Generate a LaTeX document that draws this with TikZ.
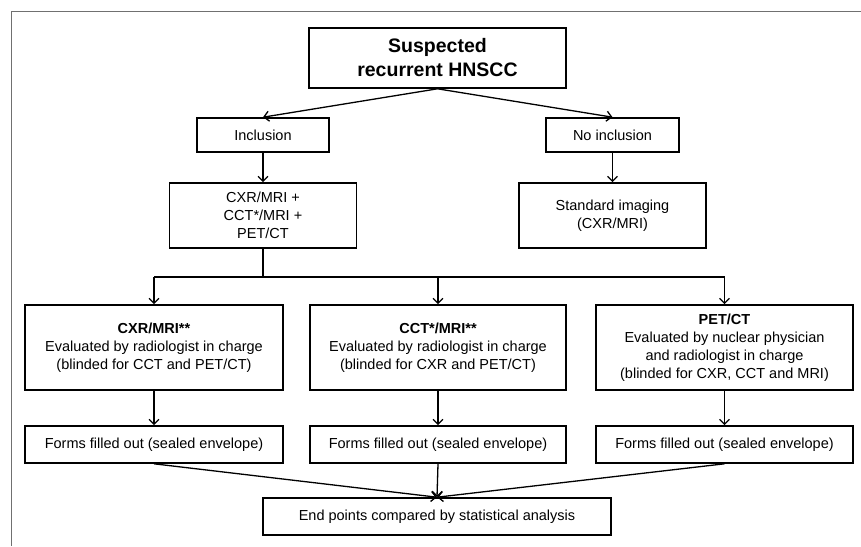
\documentclass[tikz,border=0pt]{standalone}
\usepackage{fontspec}
\setmainfont{Liberation Sans}
\usetikzlibrary{arrows.meta}

\definecolor{framegray}{HTML}{707070}
\tikzset{
	box/.style={draw, line width=1.6pt, inner sep=2pt, align=center,
		font=\fontsize{14.5}{18}\selectfont},
	flow/.style={-{Straight Barb[length=5pt,width=10pt]}, line width=1.3pt},
	link/.style={line width=1.3pt},
}

\begin{document}
\begin{tikzpicture}[x=1pt,y=-1pt]
	\useasboundingbox (0,0) rectangle (861,546);
	% frame
	\draw[line width=1.4pt, framegray] (861,11.7) -- (11.7,11.7) -- (11.7,546);
	% boxes
	\node[box, minimum width=257pt, minimum height=60pt,
		font=\bfseries\fontsize{19.5}{24}\selectfont] (top) at (437.5,58) {Suspected\\recurrent HNSCC};
	\node[box, minimum width=132pt, minimum height=34pt] (incl) at (263,135) {Inclusion};
	\node[box, minimum width=133pt, minimum height=34pt] (noincl) at (612.5,135) {No inclusion};
	\node[box, minimum width=187pt, minimum height=65pt] (imaging) at (263,215.5) {CXR/MRI +\\CCT*/MRI +\\PET/CT};
	\node[box, minimum width=187pt, minimum height=65pt] (standard) at (612.5,215.5) {Standard imaging\\(CXR/MRI)};
	\node[box, minimum width=258pt, minimum height=85pt] (cxr) at (154,347.5)
		{\textbf{CXR/MRI**}\\Evaluated by radiologist in charge\\(blinded for CCT and PET/CT)};
	\node[box, minimum width=256pt, minimum height=85pt] (cct) at (438,347.5)
		{\textbf{CCT*/MRI**}\\Evaluated by radiologist in charge\\(blinded for CXR and PET/CT)};
	\node[box, minimum width=257pt, minimum height=85pt] (pet) at (724.5,347.5)
		{\textbf{PET/CT}\\Evaluated by nuclear physician\\and radiologist in charge\\(blinded for CXR, CCT and MRI)};
	\node[box, minimum width=258pt, minimum height=37pt] (formA) at (154,444.5) {Forms filled out (sealed envelope)};
	\node[box, minimum width=256pt, minimum height=37pt] (formB) at (438,444.5) {Forms filled out (sealed envelope)};
	\node[box, minimum width=257pt, minimum height=37pt] (formC) at (724.5,444.5) {Forms filled out (sealed envelope)};
	\node[box, minimum width=348pt, minimum height=37pt] (endpts) at (437,516.5) {End points compared by statistical analysis};
	\coordinate (split) at (263,277);
	% connectors
	\draw[flow] (top.south) -- (incl.north);
	\draw[flow] (top.south) -- (noincl.north);
	\draw[flow] (incl) -- (imaging);
	\draw[flow] (noincl) -- (standard);
	\draw[link] (imaging) -- (split);
	\draw[link] (cxr.north |- split) -- (pet.north |- split);
	\foreach \n in {cxr,cct,pet}
		\draw[flow] (\n.north |- split) -- (\n.north);
	\draw[flow] (cxr) -- (formA);
	\draw[flow] (cct) -- (formB);
	\draw[flow] (pet) -- (formC);
	\foreach \n in {formA,formB,formC}
		\draw[flow] (\n.south) -- (endpts.north);
\end{tikzpicture}
\end{document}
